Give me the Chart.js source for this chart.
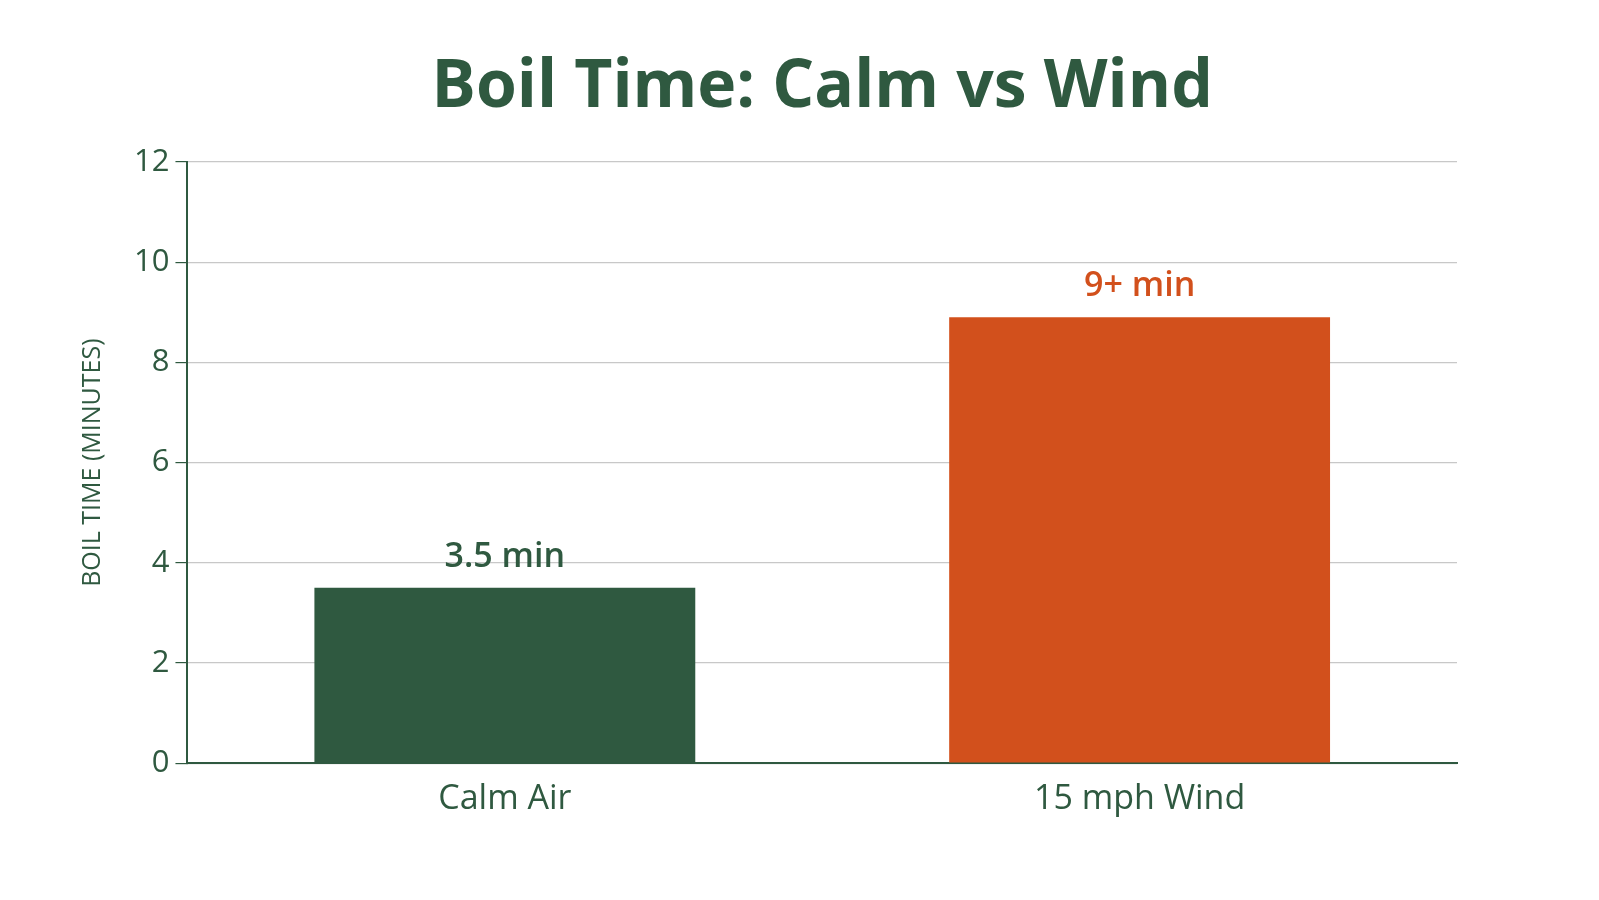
<!DOCTYPE html>
<html><head><meta charset="utf-8">
<script src="https://cdn.jsdelivr.net/npm/chart.js@4"></script>
<style>html,body{margin:0;background:#fff}#w{width:1599px;height:900px}</style>
</head><body><div id="w"><canvas id="c"></canvas></div>
<script>
const categories = ["Calm Air", "15 mph Wind"];
const boilMinutes = [3.5, 8.9];
const valueLabels = ["3.5 min", "9+ min"];
const barColors = ["#2f5940", "#d2501c"];
const labelColors = ["#2f5940", "#d2501c"];
const chartTitle = "Boil Time: Calm vs Wind";
const green = "#2f5940";
const FONT = "'Open Sans', Roboto, sans-serif";
const labelPlugin = {
  id: "lbl",
  afterDatasetsDraw(chart) {
    const ctx = chart.ctx, meta = chart.getDatasetMeta(0), a = chart.chartArea;
    ctx.save();
    ctx.font = "600 34px " + FONT;
    ctx.textAlign = "center"; ctx.textBaseline = "bottom";
    meta.data.forEach((b, i) => { ctx.fillStyle = labelColors[i]; ctx.fillText(valueLabels[i], b.x, b.y - 14); });
    ctx.font = "bold 66px " + FONT;
    ctx.fillStyle = green; ctx.textBaseline = "middle";
    ctx.fillText(chartTitle, (a.left + a.right) / 2, 88);
    ctx.restore();
  }
};
new Chart(document.getElementById("c"), {
  type: "bar",
  data: { labels: categories, datasets: [{ data: boilMinutes, backgroundColor: barColors, barPercentage: 0.6, categoryPercentage: 1 }] },
  options: {
    responsive: true, maintainAspectRatio: false, animation: false,
    layout: { padding: { left: 58, right: 142, top: 162, bottom: 72 } },
    plugins: { legend: { display: false }, tooltip: { enabled: false } },
    scales: {
      x: { grid: { display: false }, border: { color: green, width: 2 },
        ticks: { color: green, font: { size: 34, family: FONT }, padding: 8 } },
      y: { min: 0, max: 12, ticks: { stepSize: 2, color: green, font: { size: 31, family: FONT }, padding: 6 },
        border: { color: green, width: 2 },
        grid: { color: "#c8c8c8", borderDash: [3, 4], tickLength: 12, tickColor: green, tickBorderDash: [], lineWidth: 1.2 },
        title: { display: true, text: "BOIL TIME (MINUTES)", color: green, font: { size: 25, family: FONT }, padding: 20 } }
    }
  },
  plugins: [labelPlugin]
});
</script></body></html>
